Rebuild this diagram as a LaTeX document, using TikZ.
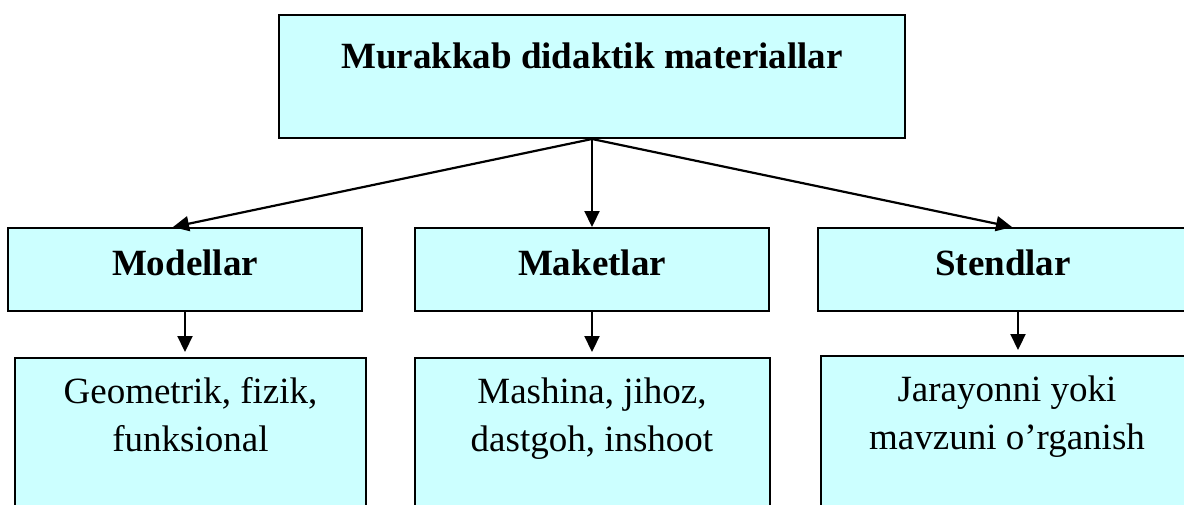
\documentclass[tikz,border=0pt]{standalone}
\usepackage{fontspec}
\setmainfont{Liberation Serif}
\usetikzlibrary{arrows.meta, positioning}
\definecolor{boxcyan}{HTML}{CCFFFF}
\tikzstyle{mainbox} = [rectangle, anchor=north, draw=black, fill=boxcyan, line width=1pt, inner sep=0pt, minimum width=313pt, text height=26.5pt, text depth=35pt, font=\fontsize{18.5}{24}\selectfont\bfseries]
\tikzstyle{kind} = [rectangle, anchor=north, draw=black, fill=boxcyan, line width=1pt, inner sep=0pt, minimum width=177pt, text height=23.5pt, text depth=18pt, font=\fontsize{18.5}{24}\selectfont\bfseries]
\tikzstyle{example} = [rectangle, draw=black, fill=boxcyan, line width=1pt, inner sep=0pt, align=center, text height=46.5pt, text depth=36pt, font=\fontsize{18.5}{24}\selectfont]
\tikzstyle{arrow} = [line width=1.1pt, -{Triangle[length=8pt, width=7.5pt]}]

\begin{document}
\begin{tikzpicture}[x=0.5pt, y=-0.5pt]
        \path [use as bounding box, clip] (0,0) rectangle (1184,504);
        \node (murakkab) [mainbox] at (592,14) {Murakkab didaktik materiallar};
        \node (modellar) [kind] at (185,227) {Modellar};
        \draw [arrow] (murakkab.south) -- ([xshift=-6pt]modellar.north);
        \node (maketlar) [kind] at (592,227) {Maketlar};
        \draw [arrow] (murakkab.south) -- (maketlar.north);
        \node (stendlar) [kind, minimum width=185pt] at (1003,227) {Stendlar};
        \draw [arrow] (murakkab.south) -- ([xshift=4.5pt]stendlar.north);
        \node (geometrik) [example, minimum width=175.5pt, below=22.5pt of modellar, xshift=2.75pt] {Geometrik, fizik,\\ funksional};
        \draw [arrow, shorten >=2.5pt] (modellar.south) -- (modellar.south |- geometrik.north);
        \node (mashina) [example, minimum width=177.5pt, below=22.5pt of maketlar] {Mashina, jihoz,\\ dastgoh, inshoot};
        \draw [arrow, shorten >=2.5pt] (maketlar.south) -- (maketlar.south |- mashina.north);
        \node (jarayon) [example, minimum width=186pt, below=21.5pt of stendlar, xshift=2pt] {Jarayonni yoki\\ mavzuni o’rganish};
        \draw [arrow, shorten >=2.5pt] ([xshift=7.5pt]stendlar.south) -- ([xshift=7.5pt]stendlar.south |- jarayon.north);
    \end{tikzpicture}
\end{document}
